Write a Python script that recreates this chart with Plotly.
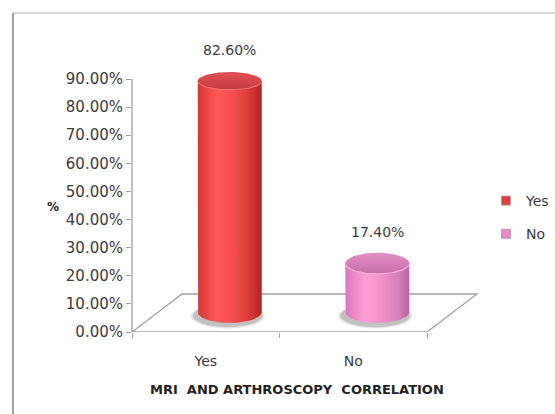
import numpy as np
import plotly.graph_objects as go

# ---- data ----
categories = ["Yes", "No"]
percent_values = [82.6, 17.4]
y_tick_values = [0, 10, 20, 30, 40, 50, 60, 70, 80, 90]
y_tick_labels = [f"{t:.2f}%" for t in y_tick_values]
x_axis_title = "MRI  AND ARTHROSCOPY  CORRELATION"
y_axis_title = "%"

# ---- style ----
FONT = "DejaVu Sans"
TXT = "#3a3a3a"
AX = "#a0a0a0"
W, H = 555, 414
ML, MR, MT, MB = 132, 75, 40, 82
PW, PH = W - ML - MR, H - MT - MB          # plot area in px
CAT_PX = 147.5                              # px per category on the front plane
Y_PX = 253 / 90                             # px per % on the front axis
DEPTH_PX = 2.797                            # px per % on the plane of the cylinders
DEPTH_ZERO_PX = 20                          # that plane's zero, above the front floor edge
DX_FLOOR, DY_FLOOR = 50, 38                 # floor depth offset in px
DX_CYL = 24                                 # cylinder centre shift in px
RX_PX = 32

x_range = [-0.5, -0.5 + PW / CAT_PX]
y_range = [0, PH / Y_PX]
y2_range = [-DEPTH_ZERO_PX / DEPTH_PX, (PH - DEPTH_ZERO_PX) / DEPTH_PX]

body_scales = {
    "Yes": [[0, "#d83434"], [0.3, "#ff5858"], [0.55, "#f84c4c"], [0.85, "#d03636"], [1, "#b02626"]],
    "No": [[0, "#dc76ba"], [0.3, "#ff9ed8"], [0.55, "#f492cc"], [0.85, "#d27eb6"], [1, "#b6649e"]],
}
top_scales = {
    "Yes": [[0, "#c03c3c"], [1, "#e25252"]],
    "No": [[0, "#c46ca6"], [1, "#e48ec6"]],
}
rim_colors = {"Yes": "#f27070", "No": "#f8b0dc"}
legend_colors = {"Yes": "#e23c3c", "No": "#ee88cc"}

fig = go.Figure()

rx = RX_PX / CAT_PX
shift = DX_CYL / CAT_PX
px_x = 1 / CAT_PX
px_y2 = 1 / DEPTH_PX


def ry_units(v):
    # slight perspective: ellipses flatten as they rise
    return (11.0 - 0.025 * v) / DEPTH_PX


shapes = []
# floor
fx = DX_FLOOR / CAT_PX
fy = DY_FLOOR / Y_PX
shapes.append(dict(
    type="path", xref="x", yref="y", layer="below",
    path=(f"M {x_range[0]},0 L 1.5,0 L {1.5 + fx},{fy} "
          f"L {x_range[0] + fx},{fy} Z"),
    line=dict(color=AX, width=1.3), fillcolor="white"))
# value axis line
shapes.append(dict(type="line", xref="x domain", yref="y", x0=0, x1=0,
                   y0=0, y1=90, line=dict(color=AX, width=1.3)))

for i, (cat, v) in enumerate(zip(categories, percent_values)):
    cx = i + shift
    ryb = ry_units(0)
    ryt = ry_units(v)
    # soft shadow below the base
    for grow, a in [(4, 0.12), (2, 0.22)]:
        shapes.append(dict(
            type="circle", xref="x", yref="y2", layer="below",
            x0=cx - rx - (3 + grow) * px_x, x1=cx + rx + (grow - 1) * px_x,
            y0=-ryb - (3 + grow * 0.6) * px_y2, y1=ryb - 3 * px_y2,
            fillcolor=f"rgba(60,60,60,{a})", line=dict(width=0)))

    t = np.linspace(np.pi, 2 * np.pi, 40)
    bx = list(cx + rx * np.cos(t))
    by = list(ryb * np.sin(t))
    xs = [cx - rx] + bx + [cx + rx, cx - rx]
    ys = [v] + by + [v, v]
    fig.add_trace(go.Scatter(
        x=xs, y=ys, yaxis="y2", mode="lines", fill="toself",
        fillgradient=dict(type="horizontal", colorscale=body_scales[cat]),
        line=dict(width=0), hoverinfo="skip", showlegend=False))

    tt = np.linspace(0, 2 * np.pi, 80)
    fig.add_trace(go.Scatter(
        x=cx + rx * np.cos(tt), y=v + ryt * np.sin(tt), yaxis="y2",
        mode="lines", fill="toself",
        fillgradient=dict(type="vertical", colorscale=top_scales[cat]),
        line=dict(width=0), hoverinfo="skip", showlegend=False))
    tf = np.linspace(np.pi * 1.05, np.pi * 1.95, 40)
    fig.add_trace(go.Scatter(
        x=cx + rx * np.cos(tf), y=v + ryt * np.sin(tf), yaxis="y2",
        mode="lines", line=dict(color=rim_colors[cat], width=1.2),
        hoverinfo="skip", showlegend=False))

# legend entries, one group each so the group gap spaces them
for cat in categories:
    fig.add_trace(go.Scatter(
        x=[None], y=[None], mode="markers", name=cat, legendgroup=cat,
        marker=dict(symbol="square", size=9, color=legend_colors[cat],
                    line=dict(color="#9a9a9a", width=0.8))))

annotations = []
for i, (cat, v) in enumerate(zip(categories, percent_values)):
    annotations.append(dict(
        x=i + shift, y=v, xref="x", yref="y2", yshift=31,
        text=f"{v:.2f}%", showarrow=False,
        font=dict(family=FONT, size=14, color=TXT)))
annotations.append(dict(
    x=(297 - ML) / PW, xref="paper", y=(MT + PH - 399) / PH, yref="paper",
    text=f"<b>{x_axis_title}</b>", showarrow=False,
    font=dict(family=FONT, size=13, color="#222")))
annotations.append(dict(
    x=(45 - ML) / PW, xref="paper", y=(MT + PH - 207) / PH, yref="paper",
    text=f"<b>{y_axis_title}</b>", showarrow=False,
    font=dict(family=FONT, size=12, color="#222")))

# outer frame (top and left edges)
fl, ft, fb = (13 - ML) / PW, (MT + PH - 13) / PH, (MT + PH - H) / PH
fr = (W - ML) / PW
shapes.append(dict(type="line", xref="paper", yref="paper", x0=fl, x1=fr,
                   y0=ft, y1=ft, line=dict(color="#c8c8c8", width=1.5)))
shapes.append(dict(type="line", xref="paper", yref="paper", x0=fl, x1=fl,
                   y0=ft, y1=fb, line=dict(color="#999999", width=1.8)))

fig.update_layout(
    width=W, height=H,
    margin=dict(l=ML, r=MR, t=MT, b=MB, autoexpand=False),
    paper_bgcolor="white", plot_bgcolor="white",
    xaxis=dict(range=x_range, tickvals=[0, 1], ticktext=categories,
               ticks="outside", ticklen=16, tickcolor="rgba(0,0,0,0)",
               tickfont=dict(family=FONT, size=14, color=TXT),
               minor=dict(tickmode="array", tickvals=[-0.5, 0.5, 1.5],
                          ticks="outside", ticklen=5, tickcolor=AX, tickwidth=1.3),
               showline=False, showgrid=False, zeroline=False, fixedrange=True,
               automargin=False),
    yaxis=dict(range=y_range, tickvals=y_tick_values, ticktext=y_tick_labels,
               ticks="outside", ticklen=5, tickcolor=AX, tickwidth=1.3,
               tickfont=dict(family=FONT, size=15, color=TXT),
               showline=False, showgrid=False, zeroline=False, automargin=False),
    yaxis2=dict(range=y2_range, overlaying="y", visible=False),
    legend=dict(x=(486 - ML) / PW, y=(MT + PH - 185) / PH, xanchor="left", yanchor="top",
                font=dict(family=FONT, size=14, color=TXT),
                itemwidth=30, tracegroupgap=12, bgcolor="rgba(0,0,0,0)"),
    shapes=shapes, annotations=annotations,
    showlegend=True,
)

fig.write_html("out.html")
